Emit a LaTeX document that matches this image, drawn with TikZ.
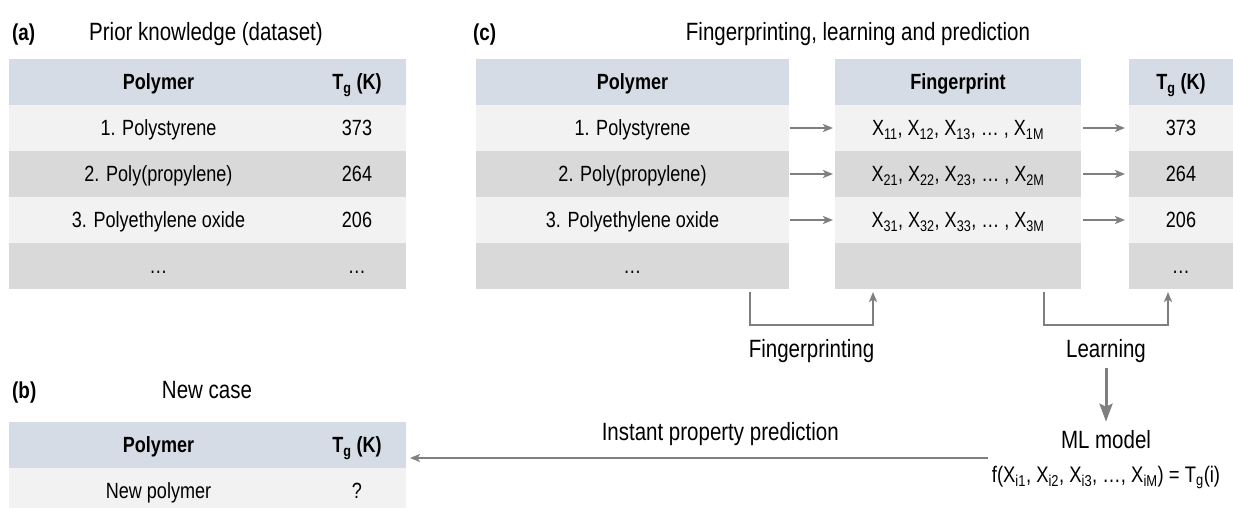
\documentclass[tikz,border=0pt]{standalone}
\usepackage{fontspec}
\setmainfont{Liberation Sans}[FakeStretch=0.82]
\usetikzlibrary{matrix,positioning,calc,arrows.meta}

\definecolor{hdr}{HTML}{D6DCE5}
\definecolor{lite}{HTML}{F2F2F2}
\definecolor{dark}{HTML}{D9D9D9}
\definecolor{flowgray}{HTML}{7F7F7F}

\newcommand{\tabfont}{\fontsize{22}{26}\selectfont}
\newcommand{\capfont}{\fontsize{25}{30}\selectfont}
\newcommand{\tagfont}{\fontsize{23}{28}\selectfont\bfseries}
\newcommand{\fxfont}{\fontsize{22.5}{27}\selectfont}
\newcommand{\Tg}{T\textsubscript{g}}

\tikzset{
  tbl/.style={matrix of nodes, nodes in empty cells, inner sep=0pt, outer sep=0pt,
    nodes={font=\tabfont, inner sep=0pt, outer sep=0pt, minimum height=46pt,
      text height=15.8pt, text depth=0pt, anchor=center},
    row 1/.style={nodes={fill=hdr, font=\tabfont\bfseries}},
    row 2/.style={nodes={fill=lite}},
    row 3/.style={nodes={fill=dark}},
    row 4/.style={nodes={fill=lite}},
    row 5/.style={nodes={fill=dark}}},
  lbl/.style={font=\capfont, inner sep=0pt},
  tag/.style={font=\tagfont, inner sep=0pt},
  flow/.style={draw=flowgray, line width=2pt, -{Stealth[length=10pt,width=8pt,inset=2.5pt]}},
  bigflow/.style={flow, line width=3pt, -{Stealth[length=18pt,width=13pt,inset=3pt]}},
}

\begin{document}
\begin{tikzpicture}[x=1pt,y=-1pt]
\useasboundingbox (0,0) rectangle (1233,508);

% (a) prior knowledge
\matrix[tbl, anchor=north west,
  column 1/.style={nodes={minimum width=299pt}},
  column 2/.style={nodes={minimum width=98pt}}] (ta) at (9,59)
{
Polymer & \Tg{} (K) \\
1. Polystyrene & 373 \\
2. Poly(propylene) & 264 \\
3. Polyethylene oxide & 206 \\
… & … \\
};
\node[tag, anchor=base west] (taga) at (12,41) {(a)};
\node[lbl, anchor=base] (capa) at (206,41) {Prior knowledge (dataset)};

% (b) new case
\matrix[tbl, anchor=north west,
  column 1/.style={nodes={minimum width=299pt}},
  column 2/.style={nodes={minimum width=98pt}}] (tb) at (9,422)
{
Polymer & \Tg{} (K) \\
New polymer & ? \\
};
\node[tag, anchor=base west] (tagb) at (12,398) {(b)};
\node[lbl, anchor=base] (capb) at (207,398) {New case};

% (c) fingerprinting, learning, prediction
\matrix[tbl, anchor=north west,
  column 1/.style={nodes={minimum width=313pt}}] (pc) at (476,59)
{
Polymer \\
1. Polystyrene \\
2. Poly(propylene) \\
3. Polyethylene oxide \\
… \\
};
\matrix[tbl, right=46pt of pc,
  column 1/.style={nodes={minimum width=246pt}}] (fp)
{
Fingerprint \\
X\textsubscript{11}, X\textsubscript{12}, X\textsubscript{13}, … , X\textsubscript{1M} \\
X\textsubscript{21}, X\textsubscript{22}, X\textsubscript{23}, … , X\textsubscript{2M} \\
X\textsubscript{31}, X\textsubscript{32}, X\textsubscript{33}, … , X\textsubscript{3M} \\
{} \\
};
\matrix[tbl, right=48pt of fp,
  column 1/.style={nodes={minimum width=104pt}}] (tg)
{
\Tg{} (K) \\
373 \\
264 \\
206 \\
… \\
};
\node[tag, anchor=base west] (tagc) at (473,41) {(c)};
\node[lbl, anchor=base] (capc) at (858,41) {Fingerprinting, learning and prediction};

\foreach \r in {2,3,4} {
  \draw[flow, shorten <=1pt, shorten >=2pt] (pc-\r-1.east) -- (fp-\r-1.west);
  \draw[flow, shorten <=2pt, shorten >=4pt] (fp-\r-1.east) -- (tg-\r-1.west);
}

\draw[flow] ($(pc-5-1.south east)+(-39,3)$) -- ++(0,33)
  -| node[lbl, pos=.25, below=32pt, anchor=base] (fplbl) {Fingerprinting}
  ($(fp-5-1.south west)+(38,3)$);
\draw[flow] ($(fp-5-1.south east)+(-37,3)$) -- ++(0,33)
  -| node[lbl, pos=.25, below=32pt, anchor=base] (lnlbl) {Learning}
  ($(tg-5-1.south west)+(39,3)$);

\node[lbl, below=91pt of lnlbl.base, anchor=base] (ml) {ML model};
\node[font=\fxfont, inner sep=0pt, below=34pt of ml.base, anchor=base] (fx)
  {f(X\textsubscript{i1}, X\textsubscript{i2}, X\textsubscript{i3}, …, X\textsubscript{iM}) = \Tg(i)};
\draw[bigflow, shorten <=5pt, shorten >=8pt] (lnlbl) -- (ml);

\coordinate (predfrom) at (988,458);
\draw[flow, shorten >=4pt] (predfrom)
  -- node[lbl, pos=.46, above=18pt, anchor=base] (predlbl) {Instant property prediction}
  (predfrom -| tb-1-2.east);
\end{tikzpicture}
\end{document}
